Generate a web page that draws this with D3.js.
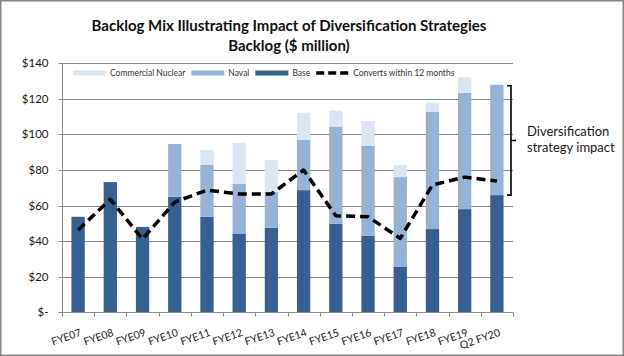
<!DOCTYPE html>
<html>
<head>
<meta charset="utf-8">
<script src="https://cdn.jsdelivr.net/npm/d3@7"></script>
<style>
  html, body { margin: 0; padding: 0; background: #fff; }
  svg { display: block; font-family: Lato, "Noto Sans", sans-serif; }
</style>
</head>
<body>
<svg id="chart" width="624" height="356"></svg>
<script>
// ---- data ----
const categories = ["FYE07","FYE08","FYE09","FYE10","FYE11","FYE12","FYE13","FYE14","FYE15","FYE16","FYE17","FYE18","FYE19","Q2 FY20"];
const base       = [53.7, 73.2, 48.0, 65.0, 53.7, 44.3, 47.5, 68.7, 49.8, 43.1, 25.5, 46.8, 58.0, 65.9];
const naval      = [0, 0, 0, 29.6, 29.3, 28.0, 20.3, 28.2, 54.4, 50.4, 50.5, 65.8, 65.3, 62.0];
const commercial = [0, 0, 0, 0, 8.2, 23.0, 17.8, 15.3, 9.3, 14.0, 6.8, 5.2, 8.8, 0];
const converts   = [46.3, 63.5, 41.2, 62.0, 68.7, 66.5, 66.5, 80.0, 54.3, 53.7, 41.6, 71.6, 76.0, 73.8];
const yTicks     = [0, 20, 40, 60, 80, 100, 120, 140];
const seriesNames = ["Base", "Naval", "Commercial Nuclear"];
const legendLabels = ["Commercial Nuclear", "Naval", "Base", "Converts within 12 months"];
const titleLines = ["Backlog Mix Illustrating Impact of Diversification Strategies", "Backlog ($ million)"];
const annotationLines = ["Diversification", "strategy impact"];

// ---- layout / style ----
const colors = { "Base": "#376092", "Naval": "#95B3D7", "Commercial Nuclear": "#DCE6F2" };
const gridColor = "#8a8a8a";
const plot = { left: 62, right: 513, top: 63.3, bottom: 312.3 };

const svg = d3.select("#chart");

// outer border
svg.append("rect").attr("x", 0.75).attr("y", 0.75).attr("width", 622.5).attr("height", 354.5)
  .attr("fill", "#fff").attr("stroke", "#858585").attr("stroke-width", 1.5);

const x = d3.scaleBand().domain(categories).range([plot.left, plot.right])
  .paddingInner(0.587).paddingOuter(0.2935);
const step = x.step();
const y = d3.scaleLinear().domain([0, 140]).range([plot.bottom, plot.top]);

// gridlines
svg.append("g").selectAll("line").data(yTicks.filter(d => d > 0)).join("line")
  .attr("x1", plot.left).attr("x2", plot.right)
  .attr("y1", d => Math.round(y(d)) + 0.5).attr("y2", d => Math.round(y(d)) + 0.5)
  .attr("stroke", gridColor).attr("stroke-width", 1);

// y axis
const yAxis = d3.axisLeft(y).tickValues(yTicks).tickSize(4).tickPadding(10)
  .tickFormat(d => d === 0 ? "$-" : "$" + d);
const gy = svg.append("g").attr("transform", `translate(${plot.left + 0.5},0)`).call(yAxis);
gy.select(".domain").attr("stroke", gridColor).attr("d", `M0,${plot.top}V${plot.bottom}`);
gy.selectAll(".tick line").attr("stroke", gridColor);
gy.selectAll(".tick text").attr("font-size", 11.5).attr("fill", "#1a1a1a")
  .attr("font-family", "Lato, sans-serif");
gy.selectAll(".tick").attr("transform", d => `translate(0,${Math.round(y(d)) + 0.5})`);

// stacked bars
const rows = categories.map((c, i) => ({ cat: c, "Base": base[i], "Naval": naval[i], "Commercial Nuclear": commercial[i] }));
const stack = d3.stack().keys(seriesNames)(rows);
svg.append("g").selectAll("g").data(stack).join("g")
  .attr("fill", s => colors[s.key])
  .selectAll("rect").data(s => s).join("rect")
  .attr("x", d => x(d.data.cat)).attr("width", x.bandwidth())
  .attr("y", d => y(d[1])).attr("height", d => Math.max(0, y(d[0]) - y(d[1])));

// x axis
const gx = svg.append("g").attr("transform", `translate(0,${Math.round(plot.bottom) + 0.5})`);
gx.append("line").attr("x1", plot.left).attr("x2", plot.right).attr("stroke", gridColor);
const boundaries = d3.range(categories.length + 1).map(i => plot.left + i * step);
gx.selectAll("line.tk").data(boundaries).join("line").attr("class", "tk")
  .attr("x1", d => Math.round(d) + 0.5).attr("x2", d => Math.round(d) + 0.5)
  .attr("y1", 0).attr("y2", 4).attr("stroke", gridColor);
gx.selectAll("text").data(categories).join("text")
  .attr("transform", d => `translate(${x(d) + x.bandwidth() / 2 + 4},${23}) rotate(-19)`)
  .attr("text-anchor", "end").attr("font-size", 10.5).attr("fill", "#1a1a1a")
  .text(d => d);

// converts line
const line = d3.line().x((d, i) => x(categories[i]) + x.bandwidth() / 2).y(d => y(d));
svg.append("path").datum(converts).attr("d", line)
  .attr("fill", "none").attr("stroke", "#000").attr("stroke-width", 3.5)
  .attr("stroke-dasharray", "9,5").attr("stroke-linejoin", "round");

// legend
const lg = svg.append("g").attr("font-size", 8.5).attr("fill", "#333");
let lx = 73;
const ly = 73;
legendLabels.forEach((lab, i) => {
  if (i < 3) {
    lg.append("rect").attr("x", lx).attr("y", ly - 2.5).attr("width", 33).attr("height", 5)
      .attr("fill", colors[lab]);
  } else {
    lg.append("line").attr("x1", lx).attr("x2", lx + 33).attr("y1", ly).attr("y2", ly)
      .attr("stroke", "#000").attr("stroke-width", 3.5).attr("stroke-dasharray", "8,4");
  }
  const t = lg.append("text").attr("x", lx + 37).attr("y", ly + 3).text(lab);
  lx += 37 + t.node().getComputedTextLength() + 6;
});

// title
svg.append("g").selectAll("text").data(titleLines).join("text")
  .attr("x", 289).attr("y", (d, i) => 31 + i * 20)
  .attr("text-anchor", "middle").attr("font-weight", "bold").attr("font-size", 15)
  .attr("fill", "#111").text(d => d);

// bracket on last bar's diversification segment
const li = categories.length - 1;
const bTop = y(base[li] + naval[li] + commercial[li]) + 1;
const bBot = y(base[li]);
const bx = plot.right - 2;
svg.append("path")
  .attr("d", `M${bx - 4},${bTop}H${bx}V${bBot}H${bx - 4}M${bx},${(bTop + bBot) / 2}H${bx + 5}`)
  .attr("fill", "none").attr("stroke", "#000").attr("stroke-width", 1.6);

// annotation
svg.append("g").selectAll("text").data(annotationLines).join("text")
  .attr("x", 527).attr("y", (d, i) => 136 + i * 15.5)
  .attr("font-size", 13).attr("fill", "#1a1a1a").text(d => d);
</script>
</body>
</html>
